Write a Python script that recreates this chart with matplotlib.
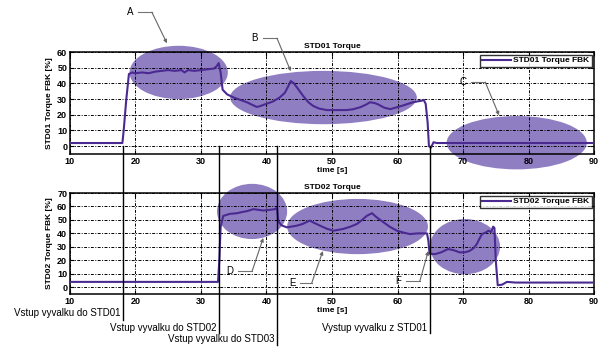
import matplotlib
matplotlib.use('Agg')
import matplotlib.pyplot as plt
import matplotlib.transforms as mtransforms
from matplotlib.patches import Ellipse
from matplotlib.lines import Line2D

plt.rcParams['font.family'] = ['Liberation Sans', 'DejaVu Sans']

# STD01 torque feedback [%] vs time [s]
t1 = [10, 18.0, 18.2, 18.6, 19.0, 19.5, 20, 21, 22, 23, 24, 25, 26, 27, 27.5, 28, 29, 30, 31, 32,
      32.4, 32.7, 33.0, 33.3, 34, 35, 36, 37, 38, 38.5, 39, 40, 41, 42, 42.8, 43.3, 43.7, 44.2,
      44.9, 45.6, 46.4, 47.1, 48, 49.2, 50, 51, 52.2, 53.2, 54.3, 55.2, 55.8, 56.5, 57, 58, 58.9,
      59.9, 60.9, 61.6, 62.4, 63, 63.7, 64.0, 64.3, 64.6, 64.8, 65.1, 65.5, 66, 67, 90]
v1 = [2, 2, 10, 30, 46, 47, 46.5, 47, 46.5, 47.5, 48, 48.5, 48, 48.5, 47, 48.5, 48, 48.5, 49, 49.5,
      51, 53, 47, 36, 33, 31, 29.5, 28, 26, 25, 25.5, 27, 28.5, 31, 34, 38, 41.5, 40,
      36, 32, 28, 25.7, 24, 23, 23, 23, 23, 23.5, 24.8, 26.5, 28, 27.5, 26.7, 24.5, 23.6,
      24.8, 26, 27, 28, 28.5, 29, 29.5, 27, 15, 0, -1, 2.5, 2, 2, 2]

# STD02 torque feedback [%] vs time [s]
t2 = [10, 32.6, 32.8, 33.0, 33.4, 34.4, 35.5, 36.4, 37, 38, 39.5, 40.5, 41.3, 41.6, 41.8, 42.3,
      43.1, 44.6, 45.5, 46.6, 47.4, 48.2, 49.2, 50.2, 51.7, 52.8, 53.8, 54.6, 55.3, 56.1, 56.8,
      57.8, 58.8, 59.9, 61, 61.9, 63, 64.5, 64.7, 64.9, 65.7, 66.7, 67.7, 68.6, 69.5, 70.3, 71,
      71.6, 72.1, 72.5, 72.9, 73.4, 73.9, 74.3, 74.6, 74.8, 75.0, 75.3, 76, 76.7, 78, 90]
v2 = [4, 4, 20, 45, 53, 54.5, 55, 56, 56.5, 58, 57, 57.5, 58, 59, 49, 46,
      44.5, 45.7, 47, 49.5, 47.5, 45.7, 43.5, 42, 43.3, 45, 47, 50, 53, 55, 52,
      48.5, 45, 42, 40.5, 39.5, 40, 40, 35, 25, 24.6, 26, 28.4, 27.5, 25.9, 26, 27,
      29, 32, 36, 39.5, 40.5, 42, 41, 45, 44, 20, 1.5, 2, 4, 3.5, 3.5]

# highlighted regions: (label, centre t, centre value, width, height)
regions1 = [('A', 26.6, 47, 15, 34), ('B', 48.7, 31, 28.5, 34), ('C', 78.2, 2.2, 21.4, 34)]
regions2 = [('D', 37.8, 56.3, 10.7, 41), ('E', 53.9, 45.1, 21.5, 41), ('F', 70.3, 30.2, 10.7, 41)]

# callouts: label position (t, v), bend t, arrow tip (t, v)
callouts1 = [('A', 19.2, 85.4, 22.5, 24.8, 65.6),
             ('B', 38.2, 68.8, 41.6, 43.7, 47.8),
             ('C', 70.0, 40.8, 73.4, 75.5, 19.7)]
callouts2 = [('D', 34.4, 11.9, 37.8, 39.5, 36.6),
             ('E', 43.9, 3.0, 46.9, 48.6, 26.9),
             ('F', 60.1, 4.5, 63.4, 64.7, 26.9)]

# events: time [s], label, line bottom and label height (figure fraction)
events = [(18.1, 'Vstup vyvalku do STD01', 0.078, 0.098),
          (32.8, 'Vstup vyvalku do STD02', 0.040, 0.055),
          (41.6, 'Vstup vyvalku do STD03', 0.006, 0.023),
          (65.0, 'Vystup vyvalku z STD01', 0.040, 0.055)]

line_c = '#4a2a91'
ell_c = '#7d68b8'

fig = plt.figure(figsize=(6.08, 3.47), dpi=100)
ax1 = fig.add_axes([0.1151, 0.5562, 0.8619, 0.2938])
ax2 = fig.add_axes([0.1151, 0.1527, 0.8619, 0.2911])


def style(ax, ymax, name):
    ax.set_xlim(10, 90)
    ax.set_ylim(-5, ymax)
    ax.set_xticks(range(10, 91, 10))
    ax.set_yticks(range(0, ymax + 1, 10))
    ax.tick_params(direction='in', top=True, right=True, length=3, width=0.8,
                   labelsize=6.5, pad=2)
    for lab in ax.get_xticklabels() + ax.get_yticklabels():
        lab.set_fontweight('bold')
    for s in ax.spines.values():
        s.set_linewidth(1.1)
    ax.grid(True, color='k', linestyle=(0, (3, 1.5, 1, 1.5)), linewidth=0.7)
    ax.set_title(name + ' Torque', fontsize=6, fontweight='bold', pad=3)
    ax.set_xlabel('time [s]', fontsize=6, fontweight='bold', labelpad=1)
    ax.set_ylabel(name + ' Torque FBK [%]', fontsize=6, fontweight='bold', labelpad=3)


def highlight(ax, regions, callouts):
    for _, cx, cy, w, h in regions:
        ax.add_patch(Ellipse((cx, cy), w, h, facecolor=ell_c, edgecolor='none',
                             alpha=0.85, zorder=1, clip_on=False))
    for lab, lx, ly, bx, tx, ty in callouts:
        ax.text(lx, ly, lab, fontsize=7, ha='center', va='center', clip_on=False)
        ax.plot([lx + 1.2, bx], [ly, ly], color='0.45', lw=0.8, clip_on=False)
        ax.annotate('', xy=(tx, ty), xytext=(bx, ly), annotation_clip=False,
                    arrowprops=dict(arrowstyle='-|>', color='0.4', lw=0.8,
                                    mutation_scale=5, shrinkA=0, shrinkB=0))


style(ax1, 60, 'STD01')
style(ax2, 70, 'STD02')
highlight(ax1, regions1, callouts1)
highlight(ax2, regions2, callouts2)

ax1.plot(t1, v1, color=line_c, lw=1.5, label='STD01 Torque FBK', zorder=3)
ax2.plot(t2, v2, color=line_c, lw=1.5, label='STD02 Torque FBK', zorder=3)
for ax in (ax1, ax2):
    leg = ax.legend(loc='upper right', fontsize=6, frameon=True, fancybox=False,
                    handlelength=3.5, borderaxespad=0.3, borderpad=0.25,
                    handletextpad=0.3)
    leg.get_frame().set_edgecolor('k')
    leg.get_frame().set_linewidth(1.0)
    for txt in leg.get_texts():
        txt.set_fontweight('bold')

# event marker lines crossing both axes
trans = mtransforms.blended_transform_factory(ax1.transData, fig.transFigure)
y_top = fig.transFigure.inverted().transform(ax1.transData.transform((10, 0)))[1]
for te, lab, yb, yl in events:
    fig.add_artist(Line2D([te, te], [y_top, yb], transform=trans, color='k', lw=1.0))
    fig.text(te, yl, lab + ' ', fontsize=7, ha='right', va='center', transform=trans)

fig.savefig('out.png', dpi=100)
